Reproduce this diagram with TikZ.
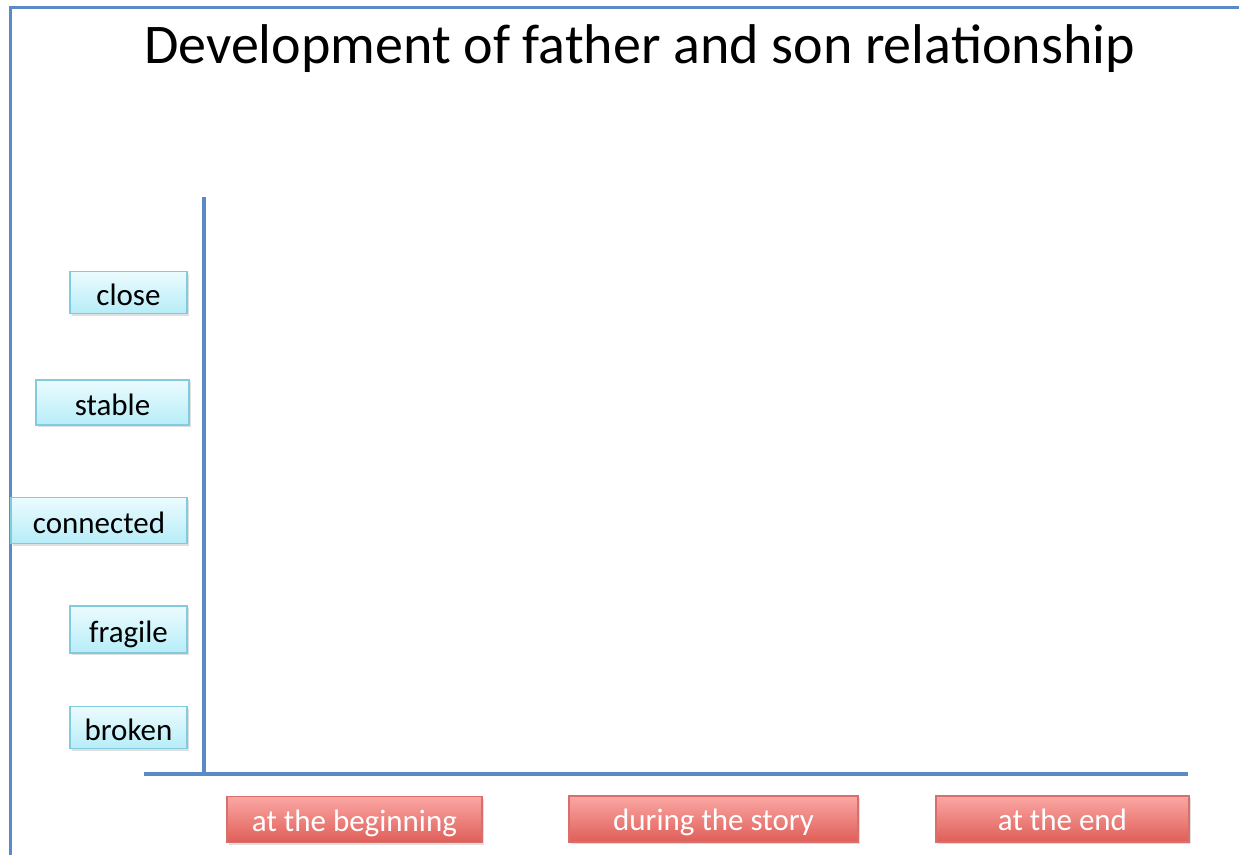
\documentclass[tikz,border=0pt]{standalone}
\usepackage{fontspec}
\setmainfont{Carlito}
\usepackage{xcolor}
\usepackage{tikz}
\usetikzlibrary{shadows}
\usetikzlibrary{positioning}

\definecolor{axisblue}{HTML}{5B8AC6}
\definecolor{cyanedge}{HTML}{80CCDE}
\definecolor{cyantop}{HTML}{ECFBFE}
\definecolor{cyanbot}{HTML}{B6EDF8}
\definecolor{rededge}{HTML}{D7706C}
\definecolor{redtop}{HTML}{FBA7A4}
\definecolor{redbot}{HTML}{DF5E58}

\begin{document}
\begin{tikzpicture}[x=1pt,y=-1pt,semithick]
	\tikzstyle{level}=[draw=cyanedge, line width=1.2pt, top color=cyantop, bottom color=cyanbot, minimum width=117pt, minimum height=42pt, inner sep=0pt, text height=25pt, text depth=0pt, font=\fontsize{31}{33}\selectfont, drop shadow={shadow xshift=1.5pt, shadow yshift=-2pt, opacity=0.25}]
	\tikzstyle{stage}=[draw=rededge, line width=1.2pt, top color=redtop, bottom color=redbot, minimum height=46pt, inner sep=0pt, text height=23pt, text depth=0pt, text=white, font=\fontsize{31}{33}\selectfont, drop shadow={shadow xshift=1.5pt, shadow yshift=-2pt, opacity=0.25}]
	\tikzstyle{axis}=[draw=axisblue, line width=3.5pt]
	\useasboundingbox (0,0) rectangle (1239,854);
	% frame
	\draw[axis, line width=3pt] (10,870) -- (10,7) -- (1250,7);
	% title
	\node[anchor=base, font=\fontsize{56}{60}\selectfont] (title) at (639.5,63) {Development of father and son relationship};
	% levels
	\node[level] (close) at (128.5,292.5) {close};
	\node[level, minimum width=153pt, minimum height=45pt] (stable) at (112.5,402.5) {stable};
	\node[level, minimum width=176pt, minimum height=46pt] (connected) at (99,520.5) {connected};
	\node[level, minimum height=47pt] (fragile) at (128.5,629.5) {fragile};
	\node[level] (broken) at (128.5,727.5) {broken};
	% stages
	\node[stage, minimum width=255pt] (beginning) at (354.5,819.5) {at the beginning};
	\node[stage, minimum width=289pt] (during) at (713.5,819) {during the story};
	\node[stage, minimum width=253pt] (end) at (1062.5,819) {at the end};
	% axes
	\coordinate (ytop) at (204,197);
	\coordinate (ybot) at (204,775);
	\coordinate (xleft) at (144,774);
	\coordinate (xright) at (1188,774);
	\draw[axis] (ytop) -- (ybot);
	\draw[axis] (xleft) -- (xright);
\end{tikzpicture}
\end{document}
